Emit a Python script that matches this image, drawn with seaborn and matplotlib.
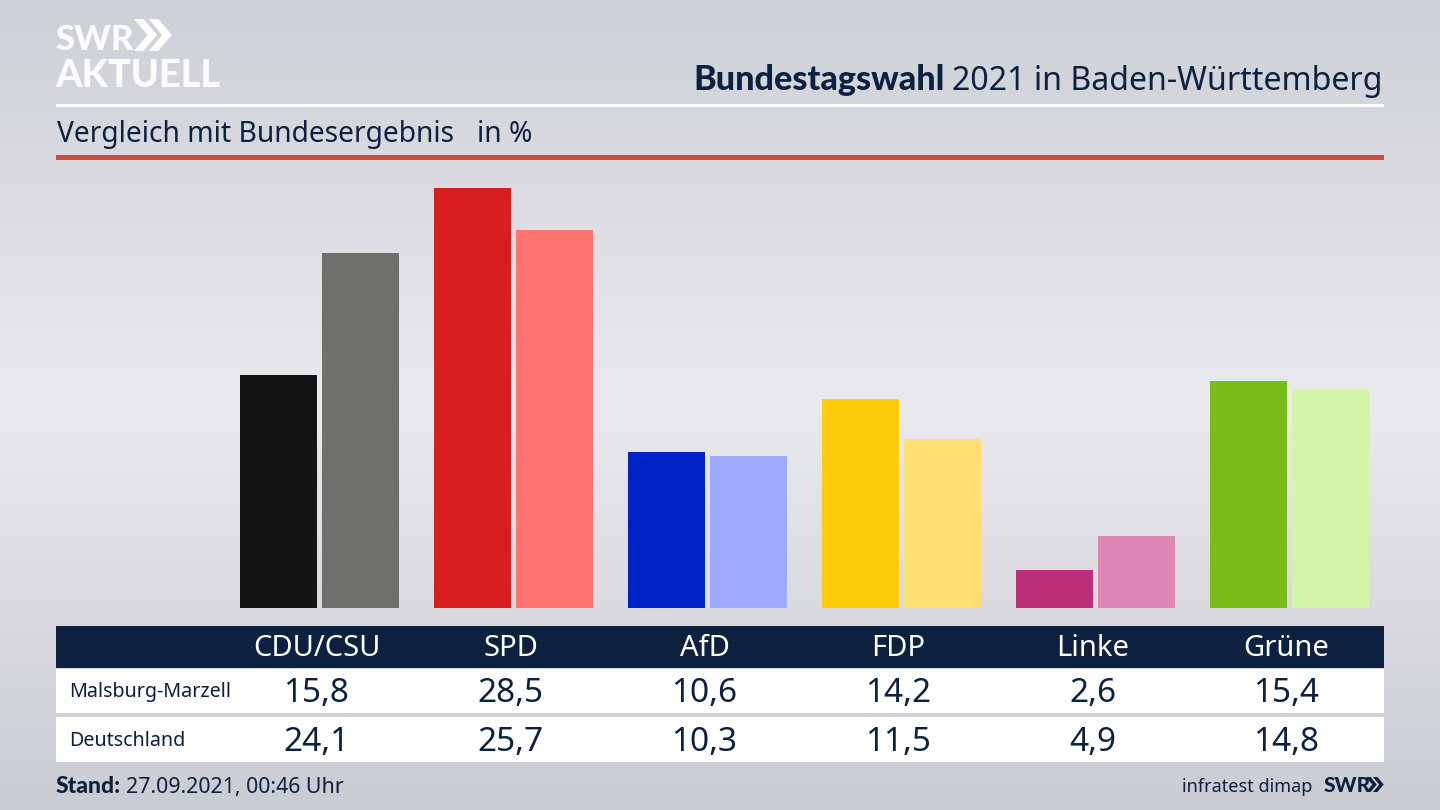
import numpy as np
import pandas as pd
import matplotlib

matplotlib.use('Agg')
import matplotlib.pyplot as plt
import matplotlib.patches as mpatches
from matplotlib.colors import LinearSegmentedColormap
import seaborn as sns

# data
parties = ["CDU/CSU", "SPD", "AfD", "FDP", "Linke", "Grüne"]
malsburg = [15.8, 28.5, 10.6, 14.2, 2.6, 15.4]
deutschland = [24.1, 25.7, 10.3, 11.5, 4.9, 14.8]
row_names = ["Malsburg-Marzell", "Deutschland"]
colors_local = ["#141414", "#d81f1f", "#0023c8", "#ffcc0a", "#bd2e78", "#78bc1b"]
colors_bund = ["#716f6c", "#ff7370", "#9eaaff", "#ffdf70", "#de87b7", "#d3f5a8"]

navy = "#0c2040"
bold_font = ['Lato', 'DejaVu Sans']

sns.set_theme(style="white")
plt.rcParams['font.family'] = ['Noto Sans', 'DejaVu Sans']

df = pd.DataFrame({
    "Partei": parties * 2,
    "Anteil": malsburg + deutschland,
    "Gebiet": [row_names[0]] * 6 + [row_names[1]] * 6,
})

fig = plt.figure(figsize=(14.4, 8.1), dpi=100)

# background + decorations work in pixel coordinates
bg = fig.add_axes([0, 0, 1, 1], zorder=0)
bg.set_xlim(0, 1440)
bg.set_ylim(810, 0)
bg.axis('off')
cmap = LinearSegmentedColormap.from_list("bg", [(0, "#cdd0d6"), (0.5, "#e9eaee"), (1, "#c9ccd3")])
bg.imshow(np.linspace(0, 1, 256).reshape(-1, 1), cmap=cmap, extent=[0, 1440, 810, 0], aspect='auto')

# bars
ax = fig.add_axes([0, 0, 1, 1], zorder=1)
sns.barplot(data=df, x="Partei", y="Anteil", hue="Gebiet", order=parties,
            hue_order=row_names, width=0.845, gap=0.061, saturation=1,
            legend=False, ax=ax)
for container, cols in zip(ax.containers, [colors_local, colors_bund]):
    for bar, col in zip(container, cols):
        bar.set_facecolor(col)
        bar.set_linewidth(0)
step = 194.0
scale = 14.72
ax.set_xlim(-319.5 / step, (1440 - 319.5) / step)
ax.set_ylim(-(810 - 608) / scale, 608 / scale)
ax.axis('off')

# overlay for table and text
top = fig.add_axes([0, 0, 1, 1], zorder=2)
top.set_xlim(0, 1440)
top.set_ylim(810, 0)
top.axis('off')
top.patch.set_alpha(0)


def rect(x0, y0, x1, y1, col):
    top.add_patch(mpatches.Rectangle((x0, y0), x1 - x0, y1 - y0, fc=col, ec='none'))


def chevrons(x, y, h, col):
    w = h * 0.42
    for dx in (0, h * 0.46):
        t = h * 0.3
        top.add_patch(mpatches.Polygon(
            [(x + dx, y), (x + dx + t, y), (x + dx + t + w, y + h / 2),
             (x + dx + t, y + h), (x + dx, y + h), (x + dx + w, y + h / 2)],
            closed=True, fc=col, ec='none'))


rect(56, 104, 1384, 107, "white")
rect(56, 155, 1384, 160, "#c9503f")
rect(56, 626, 1384, 668, navy)
rect(56, 669, 1384, 713, "white")
rect(56, 717, 1384, 762, "white")

# logo
top.text(55, 50, "SWR", color="white", fontsize=25, family=bold_font, fontweight='black', va='baseline', ha='left', alpha=0.95)
chevrons(134, 19, 32, "white")
top.text(55, 87, "AKTUELL", color="white", fontsize=27.3, family=bold_font, fontweight='black', va='baseline', ha='left', alpha=0.95)

# headings
top.text(693, 90, "Bundestagswahl", color=navy, fontsize=24.6, family=bold_font, fontweight='black', va='baseline', ha='left')
top.text(1383, 90, "2021 in Baden-Württemberg", color=navy, fontsize=23.1, va='baseline', ha='right')
top.text(57, 142, "Vergleich mit Bundesergebnis", color=navy, fontsize=20.3, va='baseline', ha='left')
top.text(477, 142, "in %", color=navy, fontsize=20.3, va='baseline', ha='left')

# table
centers = [316.5 + 194 * i for i in range(6)]
for cx, name, a, b in zip(centers, parties, malsburg, deutschland):
    top.text(cx, 656, name, color="white", fontsize=21, va='baseline', ha='center')
    top.text(cx, 702, f"{a:.1f}".replace('.', ','), color=navy, fontsize=24, va='baseline', ha='center')
    top.text(cx, 751, f"{b:.1f}".replace('.', ','), color=navy, fontsize=24, va='baseline', ha='center')
top.text(69, 697, row_names[0], color=navy, fontsize=14.2, va='baseline', ha='left')
top.text(69, 746, row_names[1], color=navy, fontsize=14.2, va='baseline', ha='left')

# footer
top.text(56, 793, "Stand:", color=navy, fontsize=16.5, family=bold_font, fontweight='black', va='baseline', ha='left')
top.text(126, 793, "27.09.2021, 00:46 Uhr", color=navy, fontsize=15.4, va='baseline', ha='left')
top.text(1312, 792, "infratest dimap", color=navy, fontsize=13, va='baseline', ha='right')
top.text(1324, 792, "SWR", color=navy, fontsize=15, family=bold_font, fontweight='black', va='baseline', ha='left')
chevrons(1366, 777, 15, navy)

fig.savefig("out.png", dpi=100)
